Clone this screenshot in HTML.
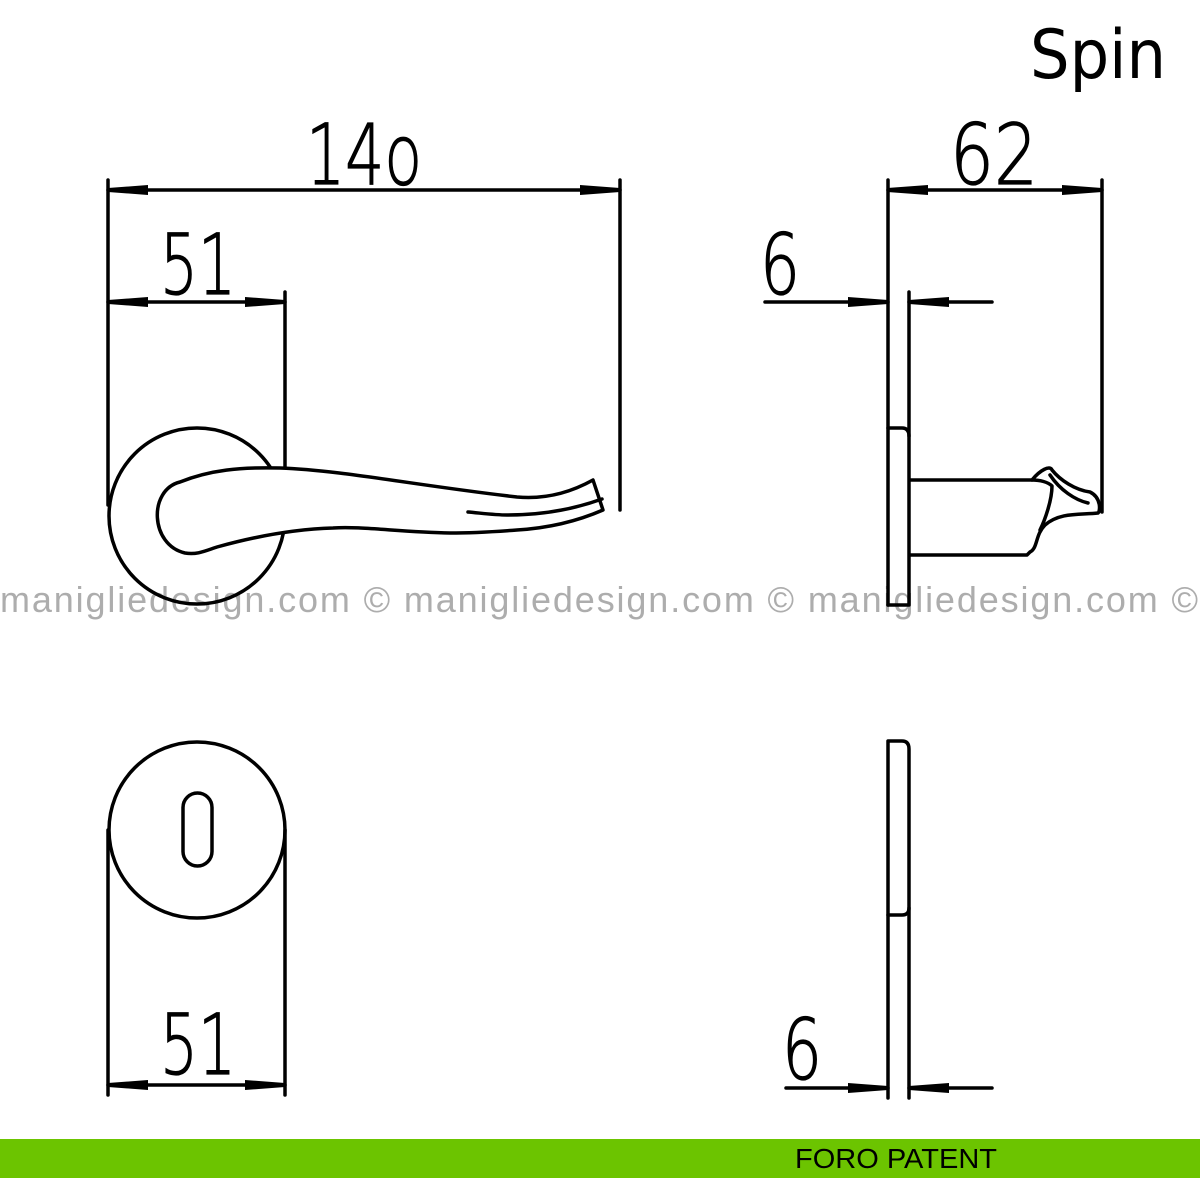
<!DOCTYPE html>
<html><head><meta charset="utf-8"><style>
html,body{margin:0;padding:0;background:#fff;width:1200px;height:1200px;overflow:hidden}
svg{display:block}
</style></head><body>
<svg width="1200" height="1200" viewBox="0 0 1200 1200" xmlns="http://www.w3.org/2000/svg">
<text x="0" y="612" font-family="'Liberation Sans',sans-serif" font-size="36" fill="#adadad" textLength="1198" lengthAdjust="spacing">manigliedesign.com © manigliedesign.com © manigliedesign.com ©</text>

<g fill="none" stroke="#000" stroke-width="3.5" stroke-linecap="round" stroke-linejoin="round">
<line x1="108" y1="180" x2="108" y2="505"/>
<line x1="285" y1="292" x2="285" y2="475"/>
<line x1="620" y1="180" x2="620" y2="510"/>
<line x1="108" y1="190" x2="620" y2="190"/>
<line x1="108" y1="302" x2="285" y2="302"/>
<circle cx="197" cy="516" r="88"/>
<path fill="#fff" d="M180,482 C210,470 240,467 280,468 C340,470 420,486 517,497 C550,500 575,490 593,480 L603,510 C580,520 550,528 517,530 C490,532 470,533 450,533 C400,532 360,526 333,528 C300,529 260,535 217,547 C205,551 197,555 185,553 C150,545 148,490 180,482 Z"/>
<path d="M468,512 C480,513 495,515 507,515 C550,515 580,507 602,499"/>

<line x1="888" y1="180" x2="888" y2="605"/>
<path d="M909,292 L909,605 L888,605"/>
<path d="M888,428 L902,428 Q909,428 909,436"/>
<line x1="1102" y1="180" x2="1102" y2="512"/>
<line x1="888" y1="190" x2="1102" y2="190"/>
<line x1="765" y1="302" x2="888" y2="302"/>
<line x1="992" y1="302" x2="909" y2="302"/>
<path d="M910,480 L1032,480 C1040,470 1050,465 1052,470 C1060,480 1075,490 1090,492 C1102,498 1100,512 1098,513 C1080,515 1060,512 1045,525 C1035,535 1038,548 1030,552 L1027,555 L910,555"/>
<path d="M1032,480 C1040,480 1048,482 1052,486 C1052,500 1045,520 1040,530"/>
<path d="M1050,475 C1060,490 1075,500 1088,503"/>

<circle cx="197" cy="830" r="88"/>
<rect x="183" y="793" width="29" height="73" rx="14.5"/>
<line x1="108" y1="830" x2="108" y2="1095"/>
<line x1="285" y1="830" x2="285" y2="1095"/>
<line x1="108" y1="1085" x2="285" y2="1085"/>

<path d="M888,1098 L888,741 L902,741 Q909,741 909,749 L909,1098"/>
<path d="M888,915 L902,915 Q909,915 909,908"/>
<line x1="786" y1="1088" x2="888" y2="1088"/>
<line x1="992" y1="1088" x2="909" y2="1088"/>
</g>

<g fill="#000">
<polygon points="108,188 108,192 148,195 148,185"/>
<polygon points="620,188 620,192 580,195 580,185"/>
<polygon points="108,300 108,304 148,307 148,297"/>
<polygon points="285,300 285,304 245,307 245,297"/>
<polygon points="888,188 888,192 928,195 928,185"/>
<polygon points="1102,188 1102,192 1062,195 1062,185"/>
<polygon points="888,300 888,304 848,307 848,297"/>
<polygon points="909,300 909,304 949,307 949,297"/>
<polygon points="108,1083 108,1087 148,1090 148,1080"/>
<polygon points="285,1083 285,1087 245,1090 245,1080"/>
<polygon points="888,1086 888,1090 848,1093 848,1083"/>
<polygon points="909,1086 909,1090 949,1093 949,1083"/>
</g>

<g font-family="'DejaVu Sans','Liberation Sans',sans-serif" font-weight="200" fill="#000" stroke="#000" stroke-width="1.2">
<text x="306" y="184" font-size="84" textLength="116" lengthAdjust="spacingAndGlyphs">14o</text>
<text x="160" y="294" font-size="84" textLength="76" lengthAdjust="spacingAndGlyphs">51</text>
<text x="950" y="184" font-size="84" textLength="88" lengthAdjust="spacingAndGlyphs">62</text>
<text x="760" y="294" font-size="84" textLength="40" lengthAdjust="spacingAndGlyphs">6</text>
<text x="160" y="1074" font-size="84" textLength="76" lengthAdjust="spacingAndGlyphs">51</text>
<text x="782" y="1079" font-size="84" textLength="40" lengthAdjust="spacingAndGlyphs">6</text>
</g>
<text x="1030" y="78" font-family="'DejaVu Sans','Liberation Sans',sans-serif" font-size="68" fill="#000" textLength="136" lengthAdjust="spacingAndGlyphs">Spin</text>

<rect x="0" y="1139" width="1200" height="39" fill="#6cc400"/>
<text x="795" y="1168" font-family="'Liberation Sans',sans-serif" font-size="28" fill="#000" textLength="202" lengthAdjust="spacingAndGlyphs">FORO PATENT</text>
</svg>
</body></html>
